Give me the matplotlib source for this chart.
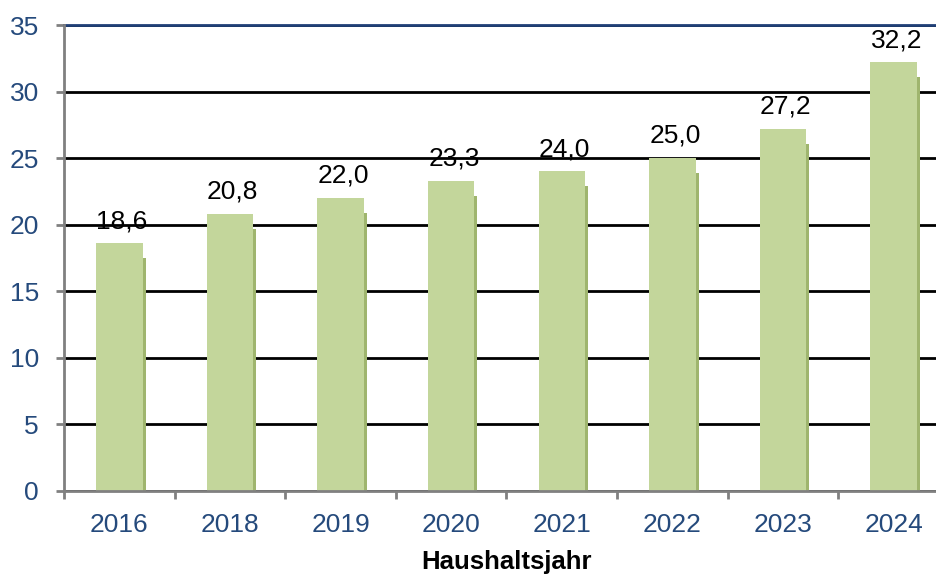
import matplotlib
matplotlib.use("Agg")
import matplotlib.pyplot as plt
from matplotlib.ticker import FixedLocator, MultipleLocator
import numpy as np

years = ["2016", "2018", "2019", "2020", "2021", "2022", "2023", "2024"]
values = [18.6, 20.8, 22.0, 23.3, 24.0, 25.0, 27.2, 32.2]
value_labels = ["18,6", "20,8", "22,0", "23,3", "24,0", "25,0", "27,2", "32,2"]
x_label = "Haushaltsjahr"

plt.rcParams['font.family'] = ['Liberation Sans', 'DejaVu Sans']

fig = plt.figure(figsize=(9.37, 5.76), dpi=100)
ax = fig.add_axes([64/937, 1-491/576, 885/937, (491-25)/576])

x = np.arange(len(years))
bar_w = 0.42
bar_col = "#c3d69b"
shadow_col = "#9fb56e"
tick_col = "#254a7c"

# shadow offset in data units (approx 3px right, 15px down)
dx = 3/110.6
dy = 15 * 35 / 466
shadow_h = [max(v - dy, 0) for v in values]
ax.bar(x + dx, shadow_h, width=bar_w, color=shadow_col, zorder=2, linewidth=0)
ax.bar(x, values, width=bar_w, color=bar_col, zorder=3, linewidth=0)

for xi, v, lab in zip(x, values, value_labels):
    ax.annotate(lab, (xi, v), xytext=(2, 11), textcoords="offset points",
                ha="center", va="baseline", fontsize=19, color="black", zorder=5)

ax.set_xlim(-0.5, len(years) - 0.5)
ax.set_ylim(0, 35)
ax.yaxis.set_major_locator(MultipleLocator(5))
ax.set_xticks(x)
ax.set_xticklabels(years)
ax.xaxis.set_minor_locator(FixedLocator(np.arange(len(years) + 1) - 0.5))

ax.grid(axis="y", color="black", linewidth=2, zorder=1)
ax.set_axisbelow(True)

for s in ["left", "bottom"]:
    ax.spines[s].set_color("#808080")
    ax.spines[s].set_linewidth(2)
    ax.spines[s].set_zorder(4)
ax.spines["top"].set_color("#1f3f77")
ax.spines["top"].set_linewidth(2)
ax.spines["right"].set_visible(False)

ax.tick_params(axis="y", which="major", length=6, width=2, color="#808080",
               labelsize=19, labelcolor=tick_col, pad=12)
ax.tick_params(axis="x", which="major", length=0, labelsize=19,
               labelcolor=tick_col, pad=16)
ax.tick_params(axis="x", which="minor", length=6, width=2, color="#808080")

ax.set_xlabel(x_label, fontsize=18.5, fontweight="bold", color="black", labelpad=9)

fig.savefig("out.png", dpi=100)
